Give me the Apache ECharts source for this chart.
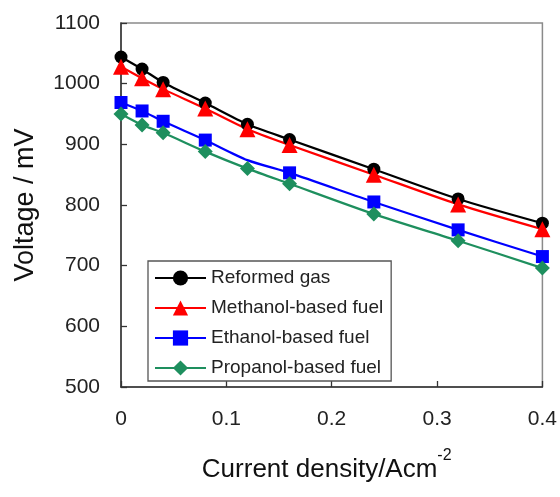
<!DOCTYPE html>
<html>
<head>
<meta charset="utf-8">
<script src="https://cdn.jsdelivr.net/npm/echarts@6/dist/echarts.min.js"></script>
<style>
  html, body { margin: 0; padding: 0; background: #fff; }
  #chart { width: 560px; height: 497px; }
</style>
</head>
<body>
<div id="chart"></div>
<script>
// current density (A/cm2)
var corriente = [0, 0.02, 0.04, 0.08, 0.12, 0.16, 0.24, 0.32, 0.4];

// voltage (mV) for each fuel
var reformedGas = [1044, 1024, 1002, 968, 933, 908, 859, 810, 770];
var metanol = [1028, 1009, 991, 959, 925, 899, 850, 801, 760];
var etanol = [969, 955, 938, 907, 874, 853, 805, 759, 715];
var propanol = [950, 932, 919, 888, 860, 835, 785, 741, 696];

var nombres = ['Reformed gas', 'Methanol-based fuel', 'Ethanol-based fuel', 'Propanol-based fuel'];
var xTicks = [0, 0.1, 0.2, 0.3, 0.4];
var yTicks = [500, 600, 700, 800, 900, 1000, 1100];

// puntos sin marcador (el 0.12 de etanol no tiene símbolo en la figura)
var sinMarcador = { 2: [4] };

var armarSerie = (idx, valores, color, simbolo, tam) => {
    var puntos = [];
    for (var i = 0; i < corriente.length; i++) {
        var p = { value: [corriente[i], valores[i]] };
        if (sinMarcador[idx] && sinMarcador[idx].indexOf(i) >= 0) {
            p.symbolSize = 0;
        }
        puntos.push(p);
    }
    return {
        name: nombres[idx],
        type: 'line',
        data: puntos,
        smooth: 0.25,
        symbol: simbolo,
        symbolSize: tam,
        showAllSymbol: true,
        lineStyle: { color: color, width: 2.2 },
        itemStyle: { color: color },
        emphasis: { disabled: true }
    };
};

var myChart = echarts.init(document.getElementById('chart'));

var option = {
    animation: false,
    backgroundColor: '#fff',
    textStyle: { fontFamily: 'Liberation Sans, Arial, sans-serif' },
    grid: {
        left: 121, right: 17, top: 23, bottom: 97,
        show: true,
        borderColor: '#8a8a8a',
        borderWidth: 1.5
    },
    legend: {
        orient: 'vertical',
        left: 148,
        top: 261,
        data: nombres,
        itemWidth: 51,
        itemHeight: 19,
        itemGap: 10,
        padding: [7, 8, 3, 6],
        borderColor: '#555',
        borderWidth: 1.3,
        backgroundColor: '#fff',
        textStyle: { fontSize: 19, lineHeight: 20, color: '#222', fontFamily: 'Liberation Sans, Arial, sans-serif' }
    },
    xAxis: {
        type: 'value',
        min: xTicks[0],
        max: xTicks[xTicks.length - 1],
        interval: 0.1,
        name: 'Current density/Acm{sup|-2}',
        nameLocation: 'middle',
        nameGap: 61,
        nameTextStyle: {
            fontSize: 26, lineHeight: 44, color: '#111',
            padding: [0, 10, 0, 0],
            rich: { sup: { fontSize: 16, lineHeight: 16, verticalAlign: 'top', color: '#111' } }
        },
        axisLine: { lineStyle: { color: '#333', width: 1.5 } },
        axisTick: { inside: true, length: 6, lineStyle: { color: '#333', width: 1.3 } },
        axisLabel: { fontSize: 21, color: '#222', margin: 22 },
        splitLine: { show: false }
    },
    yAxis: {
        type: 'value',
        min: yTicks[0],
        max: yTicks[yTicks.length - 1],
        interval: 100,
        name: 'Voltage / mV',
        nameLocation: 'middle',
        nameRotate: 90,
        nameGap: 82,
        nameTextStyle: { fontSize: 27, color: '#111' },
        axisLine: { lineStyle: { color: '#333', width: 1.5 } },
        axisTick: { inside: true, length: 6, lineStyle: { color: '#333', width: 1.3 } },
        axisLabel: {
            fontSize: 21, color: '#222', margin: 21,
            formatter: (v) => String(v)
        },
        splitLine: { show: false }
    },
    series: [
        armarSerie(0, reformedGas, '#000000', 'circle', 13),
        armarSerie(1, metanol, '#ff0000', 'triangle', 16),
        armarSerie(2, etanol, '#0000ff', 'rect', 13),
        armarSerie(3, propanol, '#1e8f5e', 'diamond', 15)
    ]
};

myChart.setOption(option);
</script>
</body>
</html>
